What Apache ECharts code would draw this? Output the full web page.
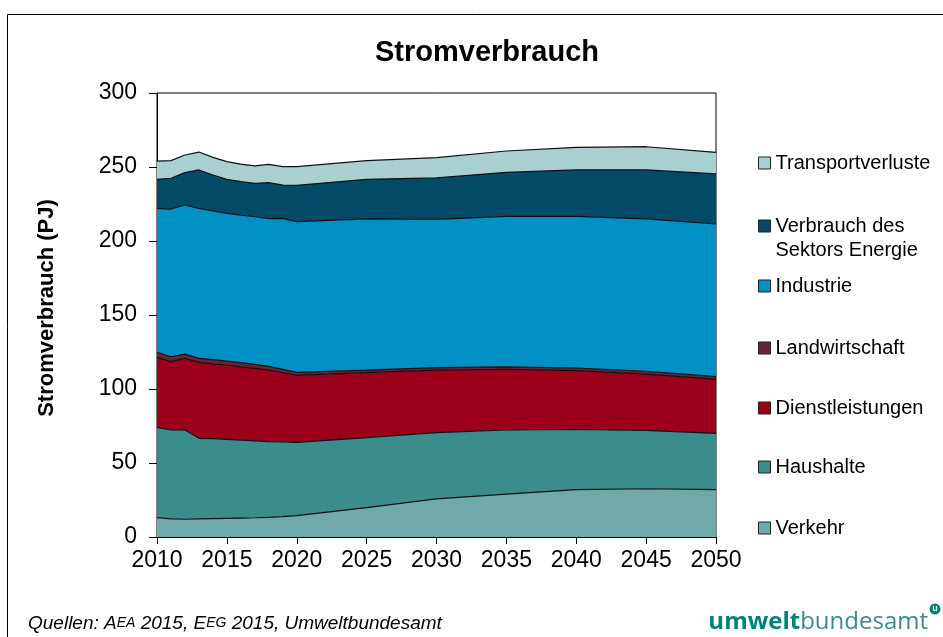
<!DOCTYPE html>
<html>
<head>
<meta charset="utf-8">
<script src="https://cdn.jsdelivr.net/npm/echarts@6/dist/echarts.min.js"></script>
<style>
  html, body { margin: 0; padding: 0; background: #fff; }
  #chart { width: 943px; height: 637px; }
</style>
</head>
<body>
<div id="chart"></div>
<script>
// years (annual to 2020, then every 5 years)
const years = [2010, 2011, 2012, 2013, 2014, 2015, 2016, 2017, 2018, 2019, 2020, 2025, 2030, 2035, 2040, 2045, 2050];

// layer values in PJ, bottom to top
const verkehr = [13.1, 12.2, 12.0, 12.2, 12.4, 12.6, 12.8, 13.0, 13.3, 13.8, 14.5, 19.8, 25.7, 29.0, 32.0, 32.6, 32.0];
const haushalte = [61.0, 60.1, 60.3, 54.5, 54.1, 53.4, 52.7, 51.9, 51.2, 50.4, 49.5, 47.3, 44.8, 43.3, 40.7, 39.4, 38.0];
const dienstleistungen = [47.3, 46.2, 48.4, 51.3, 50.5, 50.2, 49.5, 49.1, 48.3, 46.8, 45.2, 43.9, 42.3, 41.0, 39.7, 38.1, 36.5];
const landwirtschaft = [3.4, 3.3, 2.9, 2.7, 2.8, 2.7, 2.8, 2.7, 2.5, 2.3, 2.1, 1.8, 1.6, 1.7, 1.8, 1.9, 1.8];
const industrie = [97.3, 99.8, 100.7, 101.4, 100.5, 99.8, 99.7, 99.7, 99.8, 102.0, 101.8, 102.1, 100.2, 101.7, 102.5, 102.9, 103.2];
const energie = [19.6, 20.8, 21.9, 25.9, 24.3, 23.0, 22.6, 22.6, 24.3, 22.5, 24.5, 26.8, 28.0, 29.7, 31.3, 33.1, 33.8];
const transportverluste = [12.3, 11.9, 11.9, 12.1, 11.9, 11.9, 11.9, 11.7, 12.4, 12.4, 12.6, 12.6, 13.7, 14.4, 15.3, 15.7, 14.6];

const seriesNames = ['Verkehr', 'Haushalte', 'Dienstleistungen', 'Landwirtschaft', 'Industrie', 'Verbrauch des Sektors Energie', 'Transportverluste'];
const seriesValues = [verkehr, haushalte, dienstleistungen, landwirtschaft, industrie, energie, transportverluste];
const seriesColors = ['#70a9aa', '#3a8d8b', '#9d001a', '#6b2233', '#0090c4', '#034a68', '#a8d0d1'];

// legend rows (vertical centre of first text line)
const legendRows = {
  'Transportverluste': 163,
  'Verbrauch des Sektors Energie': 226,
  'Industrie': 286,
  'Landwirtschaft': 348,
  'Dienstleistungen': 408,
  'Haushalte': 467,
  'Verkehr': 528
};

const FONT = 'Liberation Sans, Arial, sans-serif';
const chart = echarts.init(document.getElementById('chart'));

// data as [value, year] so the stack is taken on the value dimension;
// lower layers get a higher z so their outline stays on top of the next fill
const series = seriesNames.map((name, i) => ({
  name: name,
  type: 'line',
  stack: 'total',
  z: 20 - i,
  encode: { x: 1, y: 0 },
  data: years.map((y, k) => [seriesValues[i][k], y]),
  symbol: 'none',
  itemStyle: { color: seriesColors[i] },
  lineStyle: { color: '#111', width: 1.2 },
  areaStyle: { color: seriesColors[i], opacity: 1 }
}));

// the two-line entry gets an empty first line so the square sits next to the first text line
const legends = Object.keys(legendRows).map((name) => {
  const twoLines = name === 'Verbrauch des Sektors Energie';
  return {
    data: [name],
    orient: 'vertical',
    left: 758,
    top: twoLines ? legendRows[name] - 36 : legendRows[name] - 11,
    padding: 0,
    icon: 'rect',
    itemWidth: 12,
    itemHeight: 12,
    selectedMode: false,
    itemStyle: { borderColor: '#222', borderWidth: 1 },
    formatter: (n) => (n === 'Verbrauch des Sektors Energie' ? ' \nVerbrauch des\nSektors Energie' : n),
    textStyle: twoLines
      ? { fontFamily: FONT, fontSize: 20, color: '#000', lineHeight: 24 }
      : { fontFamily: FONT, fontSize: 20, color: '#000', lineHeight: 22 }
  };
});

chart.setOption({
  animation: false,
  backgroundColor: '#fff',
  title: {
    text: 'Stromverbrauch',
    left: 487,
    top: 38,
    padding: 0,
    textAlign: 'center',
    textStyle: { fontFamily: FONT, fontSize: 29, fontWeight: 'bold', color: '#000' }
  },
  legend: legends,
  grid: {
    left: 157, top: 93, right: 227, bottom: 100,
    show: true, borderColor: '#000', borderWidth: 1, backgroundColor: 'transparent'
  },
  xAxis: {
    type: 'value',
    min: 2010, max: 2050, interval: 5,
    axisLine: { show: true, lineStyle: { color: '#000', width: 1 } },
    axisTick: { show: true, inside: false, length: 7, lineStyle: { color: '#000' } },
    axisLabel: { fontFamily: FONT, fontSize: 23, color: '#000', margin: 12, formatter: (v) => String(v) },
    splitLine: { show: false }
  },
  yAxis: {
    type: 'value',
    min: 0, max: 300, interval: 50,
    name: 'Stromverbrauch (PJ)',
    nameLocation: 'middle',
    nameGap: 99,
    nameTextStyle: { fontFamily: FONT, fontSize: 22, fontWeight: 'bold', color: '#000', padding: [0, 0, 0, 14] },
    axisLine: { show: true, lineStyle: { color: '#000', width: 1 } },
    axisTick: { show: true, inside: false, length: 8, lineStyle: { color: '#000' } },
    axisLabel: { fontFamily: FONT, fontSize: 23, color: '#000', margin: 20 },
    splitLine: { show: false }
  },
  graphic: [
    {
      type: 'rect',
      shape: { x: 7.5, y: 14.5, width: 1000, height: 700 },
      style: { fill: 'none', stroke: '#000', lineWidth: 1 },
      silent: true
    },
    {
      type: 'text',
      left: 28,
      top: 614,
      style: {
        text: '{a|Quellen: A}{s|EA}{a| 2015, E}{s|EG}{a| 2015, Umweltbundesamt}',
        rich: {
          a: { fontFamily: FONT, fontSize: 19, fontStyle: 'italic', fill: '#000' },
          s: { fontFamily: FONT, fontSize: 14, fontStyle: 'italic', fill: '#000' }
        }
      }
    },
    {
      type: 'text',
      right: 15,
      top: 610,
      style: {
        text: '{b|umwelt}{r|bundesamt}',
        rich: {
          b: { fontFamily: 'Open Sans, Noto Sans, sans-serif', fontSize: 24, fontWeight: 'bold', fill: '#00807a' },
          r: { fontFamily: 'Open Sans, Noto Sans, sans-serif', fontSize: 24, fill: '#3d8a87' }
        }
      }
    },
    {
      type: 'circle',
      shape: { cx: 935, cy: 609, r: 5.5 },
      style: { fill: '#00807a' }
    },
    {
      type: 'text',
      x: 935,
      y: 609,
      style: { text: 'u', fontFamily: FONT, fontSize: 9, fontWeight: 'bold', fill: '#fff', align: 'center', verticalAlign: 'middle' }
    }
  ],
  series: series
});
</script>
</body>
</html>
